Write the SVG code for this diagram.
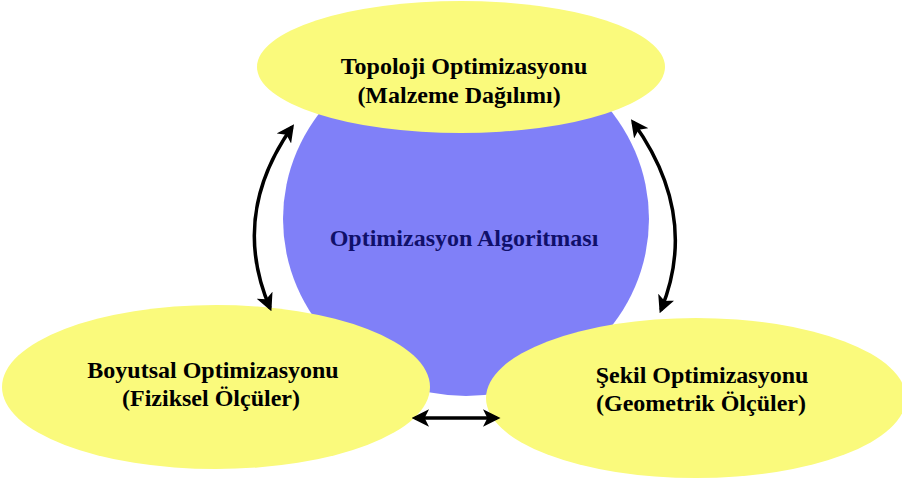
<svg xmlns="http://www.w3.org/2000/svg" width="902" height="479" viewBox="0 0 902 479">
<style>
.y{fill:#FAFA7C}
.b{fill:#8080F8}
.t{font-family:"Liberation Serif",serif;font-weight:bold;font-size:24px;fill:#000;text-anchor:middle}
.c{fill:none;stroke:#000;stroke-width:3.5}
</style>
<defs>
<marker id="ah" viewBox="0 0 10 10" refX="8" refY="5" markerWidth="5" markerHeight="5" orient="auto-start-reverse" markerUnits="strokeWidth">
<path d="M0,0 L10,5 L0,10 L2.5,5 z" fill="#000"/>
</marker>
</defs>
<rect width="902" height="479" fill="#fff"/>
<g id="algoritma">
<ellipse class="b" cx="466" cy="219" rx="183" ry="177"/>
<text class="t" x="464" y="246" style="fill:#10106a">Optimizasyon Algoritması</text>
</g>
<g id="topoloji">
<ellipse class="y" cx="461" cy="67" rx="204" ry="66"/>
<text class="t" x="464" y="74">Topoloji Optimizasyonu</text>
<text class="t" x="459" y="103">(Malzeme Dağılımı)</text>
</g>
<g id="boyutsal">
<ellipse class="y" cx="216" cy="387" rx="214" ry="82"/>
<text class="t" x="213" y="378">Boyutsal Optimizasyonu</text>
<text class="t" x="211" y="406">(Fiziksel Ölçüler)</text>
</g>
<g id="sekil">
<ellipse class="y" cx="696" cy="398" rx="210" ry="80"/>
<text class="t" x="702" y="383">Şekil Optimizasyonu</text>
<text class="t" x="701" y="411">(Geometrik Ölçüler)</text>
</g>
<g id="connectors">
<path class="c" d="M292,127 Q230,215 270,308" marker-start="url(#ah)" marker-end="url(#ah)"/>
<path class="c" d="M633,122 Q700,215 661,310" marker-start="url(#ah)" marker-end="url(#ah)"/>
<path class="c" d="M415,418 L497,418" marker-start="url(#ah)" marker-end="url(#ah)"/>
</g>
</svg>
